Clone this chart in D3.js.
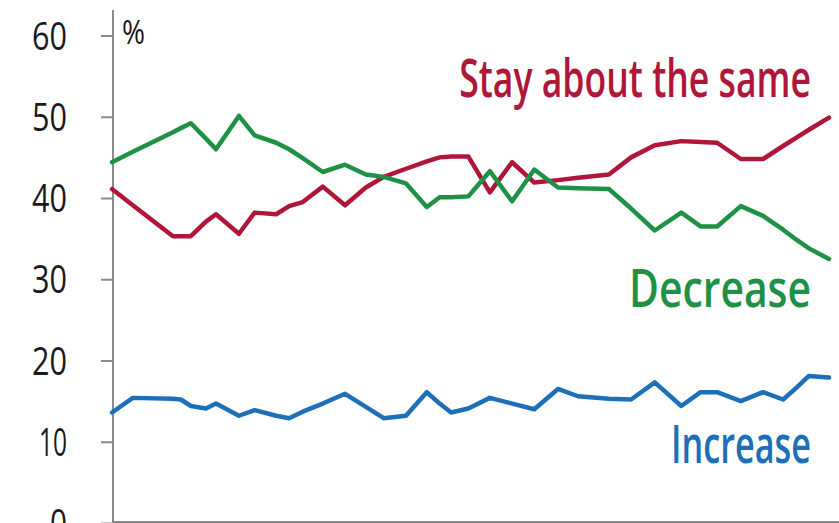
<!DOCTYPE html>
<html>
<head>
<meta charset="utf-8">
<script src="https://cdn.jsdelivr.net/npm/d3@7"></script>
<style>
  html, body { margin: 0; padding: 0; background: #fff; overflow: hidden; }
  svg { display: block; font-family: "Open Sans", "Liberation Sans", sans-serif; }
</style>
</head>
<body>
<div id="container"></div>
<script>
const WIDTH = 839;
const HEIGHT = 523;

// survey position along the time axis (0 = first survey, 100 = latest)
const surveyPos = [0, 2.9, 8.5, 9.6, 11.0, 13.1, 14.5, 17.7, 19.9, 22.9,
  24.7, 26.6, 29.4, 32.5, 35.4, 37.9, 41.0, 43.9, 45.7, 47.3,
  49.7, 52.7, 55.8, 58.9, 62.2, 65.0, 69.3, 72.4, 75.7, 79.4,
  82.1, 84.4, 87.7, 90.8, 93.6, 95.4, 97.2, 100];

const staySame = [41.1, 39.1, 35.3, 35.3, 35.3, 37.1, 38.0, 35.6, 38.2, 38.0,
  39.0, 39.5, 41.4, 39.1, 41.3, 42.6, 43.6, 44.5, 45.0, 45.1,
  45.1, 40.7, 44.4, 41.9, 42.2, 42.5, 42.9, 45.0, 46.5, 47.0,
  46.9, 46.8, 44.8, 44.8, 46.4, 47.4, 48.4, 49.9];

const decrease = [44.4, 45.7, 48.1, 48.6, 49.2, 47.3, 46.0, 50.1, 47.7, 46.8,
  46.0, 44.9, 43.2, 44.1, 42.9, 42.6, 41.8, 38.9, 40.1, 40.1,
  40.2, 43.3, 39.6, 43.5, 41.3, 41.2, 41.1, 38.7, 36.0, 38.2,
  36.5, 36.5, 39.0, 37.8, 36.1, 34.9, 33.8, 32.5];

const increase = [13.6, 15.4, 15.3, 15.2, 14.4, 14.1, 14.7, 13.2, 13.9, 13.2,
  12.9, 13.7, 14.7, 15.9, 14.3, 12.9, 13.2, 16.1, 14.7, 13.6,
  14.1, 15.4, 14.7, 14.0, 16.5, 15.6, 15.3, 15.2, 17.3, 14.4,
  16.1, 16.1, 15.0, 16.1, 15.2, 16.6, 18.1, 17.9];

const yTicks = [0, 10, 20, 30, 40, 50, 60];

const seriesNames = ["Stay about the same", "Decrease", "Increase"];
const seriesColors = ["#b0163a", "#1f9146", "#1d6fb7"];

const svg = d3
  .select("#container")
  .append("svg")
  .attr("width", WIDTH)
  .attr("height", HEIGHT);

const xScale = d3.scaleLinear().domain([0, 100]).range([112, 829]);
const yScale = d3.scaleLinear().domain([0, 60]).range([523, 35.5]);

// y axis
const yAxis = d3.axisLeft(yScale).tickValues(yTicks).tickSize(12).tickPadding(34).tickFormat(d3.format("d"));

const yG = svg
  .append("g")
  .attr("transform", "translate(113,0)")
  .call(yAxis);

yG.select(".domain").remove();
yG.selectAll(".tick line").attr("stroke", "#8a8a8a").attr("stroke-width", 2);
yG.selectAll(".tick text")
  .attr("fill", "#1a1a1a")
  .attr("dy", "0.36em")
  .attr("textLength", d => (d === 0 ? 17 : d === 10 ? 28 : 35))
  .attr("lengthAdjust", "spacingAndGlyphs")
  .style("font-family", "'Open Sans', sans-serif")
  .style("font-weight", 500)
  .style("font-size", "38px");

svg
  .append("line")
  .attr("x1", 113)
  .attr("x2", 113)
  .attr("y1", 10)
  .attr("y2", yScale(0))
  .attr("stroke", "#8a8a8a")
  .attr("stroke-width", 2);

// baseline
svg
  .append("line")
  .attr("x1", 113)
  .attr("x2", WIDTH)
  .attr("y1", yScale(0) - 1)
  .attr("y2", yScale(0) - 1)
  .attr("stroke", "#8a8a8a")
  .attr("stroke-width", 2);

svg
  .append("text")
  .attr("x", 122)
  .attr("y", 44)
  .attr("fill", "#1a1a1a")
  .attr("textLength", 23)
  .attr("lengthAdjust", "spacingAndGlyphs")
  .style("font-size", "32px")
  .text("%");

// lines
const line = d3
  .line()
  .x((d, i) => xScale(surveyPos[i]))
  .y(d => yScale(d));

[staySame, decrease, increase].forEach((values, i) => {
  svg
    .append("path")
    .datum(values)
    .attr("d", line)
    .attr("fill", "none")
    .attr("stroke", seriesColors[i])
    .attr("stroke-width", 4.5)
    .attr("stroke-linejoin", "round")
    .attr("stroke-linecap", "round");
});

// series labels, squeezed horizontally to look condensed
const labels = [
  { text: seriesNames[0], y: 97, len: 352, color: seriesColors[0] },
  { text: seriesNames[1], y: 307, len: 182, color: seriesColors[1] },
  { text: seriesNames[2], y: 463, len: 140, color: seriesColors[2] }
];

labels.forEach(d => {
  const g = svg.append("g");
  const t = g
    .append("text")
    .attr("x", 0)
    .attr("y", 0)
    .attr("text-anchor", "end")
    .attr("fill", d.color)
    .style("font-weight", 600)
    .style("font-size", "53px")
    .text(d.text);
  const sx = d.len / t.node().getComputedTextLength();
  g.attr("transform", `translate(811,${d.y}) scale(${sx},1)`);
});
</script>
</body>
</html>
